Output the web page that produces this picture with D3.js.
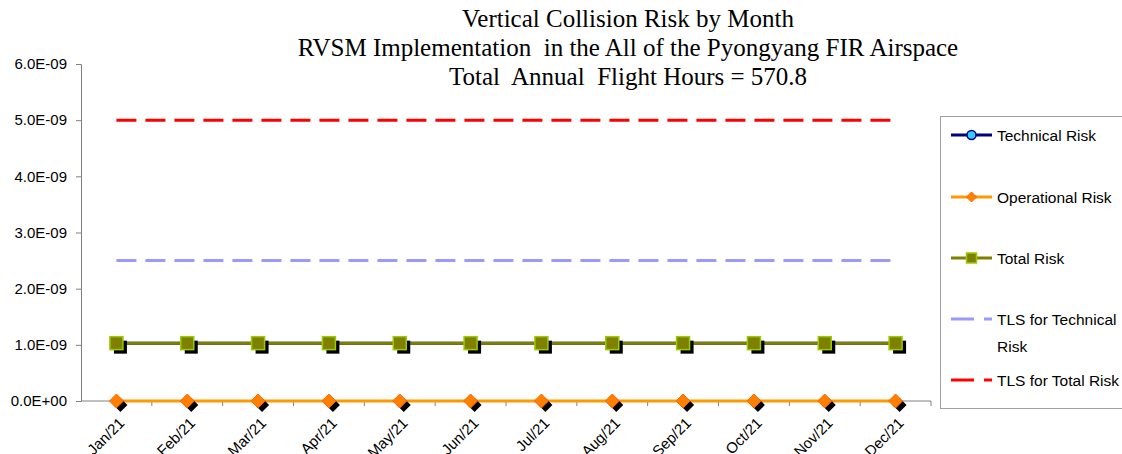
<!DOCTYPE html>
<html>
<head>
<meta charset="utf-8">
<script src="https://cdn.jsdelivr.net/npm/d3@7"></script>
<style>
  html, body { margin: 0; padding: 0; background: #fff; }
  svg { display: block; }
</style>
</head>
<body>
<svg id="chart" width="1122" height="454"></svg>
<script>
// Monthly categories
const months = ["Jan/21","Feb/21","Mar/21","Apr/21","May/21","Jun/21","Jul/21","Aug/21","Sep/21","Oct/21","Nov/21","Dec/21"];

// Risk series (per flight hour)
const technicalRisk   = [1.03e-9,1.03e-9,1.03e-9,1.03e-9,1.03e-9,1.03e-9,1.03e-9,1.03e-9,1.03e-9,1.03e-9,1.03e-9,1.03e-9];
const operationalRisk = [0,0,0,0,0,0,0,0,0,0,0,0];
const totalRisk       = [1.03e-9,1.03e-9,1.03e-9,1.03e-9,1.03e-9,1.03e-9,1.03e-9,1.03e-9,1.03e-9,1.03e-9,1.03e-9,1.03e-9];

// Target levels of safety
const tlsTechnical = [2.5e-9,2.5e-9,2.5e-9,2.5e-9,2.5e-9,2.5e-9,2.5e-9,2.5e-9,2.5e-9,2.5e-9,2.5e-9,2.5e-9];
const tlsTotal     = [5e-9,5e-9,5e-9,5e-9,5e-9,5e-9,5e-9,5e-9,5e-9,5e-9,5e-9,5e-9];

const yTicks = [0, 1e-9, 2e-9, 3e-9, 4e-9, 5e-9, 6e-9];
const yTickLabels = ["0.0E+00","1.0E-09","2.0E-09","3.0E-09","4.0E-09","5.0E-09","6.0E-09"];

const titleLines = [
  "Vertical Collision Risk by Month",
  "RVSM Implementation  in the All of the Pyongyang FIR Airspace",
  "Total  Annual  Flight Hours = 570.8"
];

const svg = d3.select("#chart");
const plot = { left: 81, right: 931, top: 64, bottom: 401 };
const sansFont = "'Liberation Sans', Arial, sans-serif";

const x = d3.scaleBand().domain(months).range([plot.left, plot.right]).padding(0);
const y = d3.scaleLinear().domain([0, 6e-9]).range([plot.bottom, plot.top]);
const cx = m => x(m) + x.bandwidth() / 2;

// Title
const title = svg.append("text")
  .attr("x", 628).attr("y", 27)
  .attr("text-anchor", "middle")
  .attr("font-family", "'Liberation Serif', 'Times New Roman', serif")
  .attr("font-size", 25)
  .attr("fill", "#000");
titleLines.forEach((t, i) => {
  title.append("tspan").attr("x", 628).attr("dy", i === 0 ? 0 : 29).attr("xml:space", "preserve").text(t);
});

// Y axis
const yAxis = d3.axisLeft(y)
  .tickValues(yTicks)
  .tickFormat((d, i) => yTickLabels[i])
  .tickSize(5)
  .tickPadding(9);
const gy = svg.append("g").attr("transform", `translate(${plot.left},0)`).call(yAxis);
gy.select(".domain").attr("stroke", "#808080").attr("stroke-width", 1);
gy.selectAll(".tick line").attr("stroke", "#808080");
gy.selectAll(".tick text")
  .attr("font-family", sansFont)
  .attr("font-size", 15).attr("fill", "#000");

// X axis: ticks sit between categories
const gx = svg.append("g").attr("transform", `translate(0,${plot.bottom})`);
gx.append("line")
  .attr("x1", plot.left).attr("x2", plot.right)
  .attr("stroke", "#808080").attr("stroke-width", 1);
gx.selectAll("line.sep")
  .data(months)
  .join("line")
  .attr("class", "sep")
  .attr("x1", d => x(d) + x.bandwidth())
  .attr("x2", d => x(d) + x.bandwidth())
  .attr("y1", 0).attr("y2", 5)
  .attr("stroke", "#808080");
gx.selectAll("text")
  .data(months)
  .join("text")
  .attr("transform", d => `translate(${cx(d) + 9},${23}) rotate(-45)`)
  .attr("text-anchor", "end")
  .attr("font-family", sansFont)
  .attr("font-size", 15)
  .attr("fill", "#000")
  .text(d => d);

const line = d3.line().x((d, i) => cx(months[i])).y(d => y(d));

// Target levels (dashed)
svg.append("path").datum(tlsTechnical)
  .attr("d", line).attr("fill", "none")
  .attr("stroke", "#9999FF").attr("stroke-width", 3)
  .attr("stroke-dasharray", "20,9");
svg.append("path").datum(tlsTotal)
  .attr("d", line).attr("fill", "none")
  .attr("stroke", "#FF0000").attr("stroke-width", 3)
  .attr("stroke-dasharray", "20,9");

// Technical risk (beneath total risk)
svg.append("path").datum(technicalRisk)
  .attr("d", line).attr("fill", "none")
  .attr("stroke", "#000080").attr("stroke-width", 3);
svg.selectAll("circle.tech").data(technicalRisk).join("circle")
  .attr("class", "tech")
  .attr("cx", (d, i) => cx(months[i])).attr("cy", d => y(d)).attr("r", 4)
  .attr("fill", "#33CCFF").attr("stroke", "#000080").attr("stroke-width", 1.5);

// Operational risk
svg.append("path").datum(operationalRisk)
  .attr("d", line).attr("fill", "none")
  .attr("stroke", "#FF9900").attr("stroke-width", 3);
const diamond = s => `M0,${-s}L${s},0L0,${s}L${-s},0Z`;
svg.selectAll("path.opShadow").data(operationalRisk).join("path")
  .attr("class", "opShadow")
  .attr("transform", (d, i) => `translate(${cx(months[i]) + 4},${y(d) + 4})`)
  .attr("d", diamond(7)).attr("fill", "#000");
svg.selectAll("path.op").data(operationalRisk).join("path")
  .attr("class", "op")
  .attr("transform", (d, i) => `translate(${cx(months[i])},${y(d)})`)
  .attr("d", diamond(7)).attr("fill", "#FF8000").attr("stroke", "#FF6600").attr("stroke-width", 1);

// Total risk
svg.append("path").datum(totalRisk)
  .attr("d", line).attr("fill", "none")
  .attr("stroke", "#808000").attr("stroke-width", 3);
const sq = 13;
svg.selectAll("rect.totShadow").data(totalRisk).join("rect")
  .attr("class", "totShadow")
  .attr("x", (d, i) => cx(months[i]) - sq / 2 + 4).attr("y", d => y(d) - sq / 2 + 4)
  .attr("width", sq).attr("height", sq).attr("fill", "#000");
svg.selectAll("rect.tot").data(totalRisk).join("rect")
  .attr("class", "tot")
  .attr("x", (d, i) => cx(months[i]) - sq / 2).attr("y", d => y(d) - sq / 2)
  .attr("width", sq).attr("height", sq)
  .attr("fill", "#808000").attr("stroke", "#99CC00").attr("stroke-width", 1.5);

// Legend
const lg = svg.append("g");
lg.append("rect")
  .attr("x", 940.5).attr("y", 116.5).attr("width", 190).attr("height", 292)
  .attr("fill", "#fff").attr("stroke", "#A0A0A0").attr("stroke-width", 1);
const lx0 = 951, lx1 = 992, ltx = 997;
function legendText(yy, lines) {
  const t = lg.append("text").attr("x", ltx).attr("y", yy + 5.5)
    .attr("font-family", sansFont).attr("font-size", 15.5).attr("fill", "#000");
  lines.forEach((s, i) => t.append("tspan").attr("x", ltx).attr("dy", i === 0 ? 0 : 27).text(s));
}
// Technical Risk
let ly = 135;
lg.append("line").attr("x1", lx0).attr("x2", lx1).attr("y1", ly).attr("y2", ly).attr("stroke", "#000080").attr("stroke-width", 3);
lg.append("circle").attr("cx", (lx0 + lx1) / 2).attr("cy", ly).attr("r", 4.5).attr("fill", "#33CCFF").attr("stroke", "#000080").attr("stroke-width", 1.5);
legendText(ly, ["Technical Risk"]);
// Operational Risk
ly = 197;
lg.append("line").attr("x1", lx0).attr("x2", lx1).attr("y1", ly).attr("y2", ly).attr("stroke", "#FF9900").attr("stroke-width", 3);
lg.append("path").attr("transform", `translate(${(lx0 + lx1) / 2},${ly})`).attr("d", diamond(5)).attr("fill", "#FF8000").attr("stroke", "#FF6600");
legendText(ly, ["Operational Risk"]);
// Total Risk
ly = 258;
lg.append("line").attr("x1", lx0).attr("x2", lx1).attr("y1", ly).attr("y2", ly).attr("stroke", "#808000").attr("stroke-width", 3);
lg.append("rect").attr("x", (lx0 + lx1) / 2 - 5).attr("y", ly - 5).attr("width", 10).attr("height", 10).attr("fill", "#808000").attr("stroke", "#99CC00").attr("stroke-width", 1.5);
legendText(ly, ["Total Risk"]);
// TLS for Technical Risk
ly = 319;
lg.append("line").attr("x1", lx0).attr("x2", lx1).attr("y1", ly).attr("y2", ly).attr("stroke", "#9999FF").attr("stroke-width", 3).attr("stroke-dasharray", "23,10");
legendText(ly, ["TLS for Technical", "Risk"]);
// TLS for Total Risk
ly = 380;
lg.append("line").attr("x1", lx0).attr("x2", lx1).attr("y1", ly).attr("y2", ly).attr("stroke", "#FF0000").attr("stroke-width", 3).attr("stroke-dasharray", "23,10");
legendText(ly, ["TLS for Total Risk"]);
</script>
</body>
</html>
